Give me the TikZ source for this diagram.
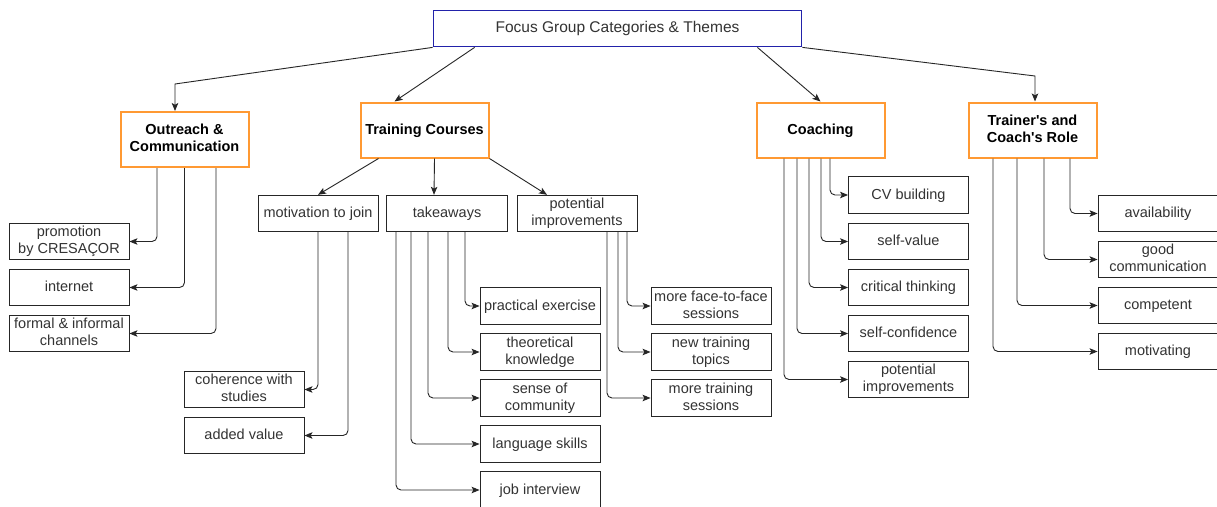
\documentclass[tikz,border=0pt]{standalone}
\usepackage{fontspec}
\setmainfont{Liberation Sans}[Ligatures=TeXOff]
\usepackage{tikz}
\usetikzlibrary{arrows.meta}
\definecolor{rootblue}{HTML}{2222AA}
\definecolor{catorange}{HTML}{FF9933}
\definecolor{leafgray}{HTML}{333333}
\newcommand{\nstrut}{\rule[-3.5pt]{0pt}{15.5pt}}
\tikzstyle{arrow} = [line width=0.9pt,draw=black!85,-{Stealth[length=8pt,width=6.5pt,inset=1.8pt]}]
\tikzstyle{elbow} = [arrow,rounded corners=5pt]
\tikzstyle{rootbox} = [draw=rootblue,line width=1.8pt,rectangle,align=center,minimum width=368pt,
    minimum height=36pt,inner sep=0pt,text=leafgray,font=\fontsize{15.5}{17}\selectfont,
    execute at begin node=\nstrut]
\tikzstyle{catbox} = [draw=catorange,line width=2pt,fill=white,rectangle,align=center,minimum width=128pt,
    minimum height=55pt,inner sep=0pt,font=\fontsize{14.5}{17}\selectfont\bfseries,
    execute at begin node=\nstrut,execute at end node=\nstrut]
\tikzstyle{leafbox} = [draw=black!85,line width=0.9pt,rectangle,align=center,minimum width=120pt,
    minimum height=36.5pt,inner sep=0pt,text=leafgray,font=\fontsize{14.5}{17}\selectfont,
    execute at begin node=\nstrut,execute at end node=\nstrut]

\begin{document}
\begin{tikzpicture}[x=1pt,y=-1pt]
    \useasboundingbox[fill=white] (0,0) rectangle (1217,506);
    % top and categories
    \node[rootbox] (root) at (617.5,28.5) {Focus Group Categories \& Themes};
    \node[catbox] (out) at (184.5,139.5) {Outreach \&\\Communication};
    \node[catbox] (tc) at (424.5,130) {Training Courses};
    \node[catbox] (coach) at (820.5,130) {Coaching};
    \node[catbox] (trn) at (1032.5,130) {Trainer's and\\Coach's Role};
    \coordinate (b1) at (175,84);
    \coordinate (b2) at (1035,76);
    \draw[arrow] (root.south west) -- (b1) -- (b1 |- out.north);
    \draw[arrow] ([xshift=42pt]root.south west) -- ([xshift=-30pt]tc.north);
    \draw[arrow] ([xshift=-45pt]root.south east) -- (coach.north);
    \draw[arrow] (root.south east) -- (b2) -- (b2 |- trn.north);

    % outreach
    \node[leafbox] (promo) at (69,241.5) {promotion\\by CRESAÇOR};
    \node[leafbox] (inet) at (69,287.5) {internet};
    \node[leafbox] (formal) at (69,333.5) {formal \& informal\\channels};
    \draw[elbow] ([xshift=-27.5pt]out.south) |- (promo.east);
    \draw[elbow] (out.south) |- (inet.east);
    \draw[elbow] ([xshift=31.5pt]out.south) |- (formal.east);

    % training courses
    \node[leafbox] (mot) at (318,213.5) {motivation to join};
    \node[leafbox,minimum width=121pt] (tk) at (447,213.5) {takeaways};
    \node[leafbox] (pot) at (577,213.5) {potential\\improvements};
    \draw[arrow] ([xshift=19pt]tc.south west) -- (mot.north);
    \draw[arrow] ([xshift=10pt]tc.south) -- ([xshift=-13pt]tk.north);
    \draw[arrow] (tc.south east) -- ([xshift=-30pt]pot.north);

    \node[leafbox] (coh) at (244,389.5) {coherence with\\studies};
    \node[leafbox] (add) at (244,435.5) {added value};
    \draw[elbow] (mot.south) |- (coh.east);
    \draw[elbow] ([xshift=30pt]mot.south) |- (add.east);

    \node[leafbox] (prac) at (540,306) {practical exercise};
    \node[leafbox] (theo) at (540,352) {theoretical\\knowledge};
    \node[leafbox] (sense) at (540,398) {sense of\\community};
    \node[leafbox] (lang) at (540,444) {language skills};
    \node[leafbox] (job) at (540,490) {job interview};
    \draw[elbow] ([xshift=18pt]tk.south) |- (prac.west);
    \draw[elbow] ([xshift=1pt]tk.south) |- (theo.west);
    \draw[elbow] ([xshift=-19pt]tk.south) |- (sense.west);
    \draw[elbow] ([xshift=-36pt]tk.south) |- (lang.west);
    \draw[elbow] ([xshift=-51pt]tk.south) |- (job.west);

    \node[leafbox] (face) at (711,306) {more face-to-face\\sessions};
    \node[leafbox] (newt) at (711,352) {new training\\topics};
    \node[leafbox] (moret) at (711,398) {more training\\sessions};
    \draw[elbow] ([xshift=50pt]pot.south) |- (face.west);
    \draw[elbow] ([xshift=41pt]pot.south) |- (newt.west);
    \draw[elbow] ([xshift=30pt]pot.south) |- (moret.west);

    % coaching
    \node[leafbox] (cv) at (908.5,195) {CV building};
    \node[leafbox] (selfv) at (908.5,241.5) {self-value};
    \node[leafbox] (crit) at (908.5,287.5) {critical thinking};
    \node[leafbox] (selfc) at (908.5,333.5) {self-confidence};
    \node[leafbox] (pimp) at (908.5,379.5) {potential\\improvements};
    \draw[elbow] ([xshift=9.5pt]coach.south) |- (cv.west);
    \draw[elbow] ([xshift=0.5pt]coach.south) |- (selfv.west);
    \draw[elbow] ([xshift=-11.5pt]coach.south) |- (crit.west);
    \draw[elbow] ([xshift=-23.5pt]coach.south) |- (selfc.west);
    \draw[elbow] ([xshift=-36.5pt]coach.south) |- (pimp.west);

    % trainer's and coach's role
    \node[leafbox] (avail) at (1158,213.5) {availability};
    \node[leafbox] (good) at (1158,259.5) {good\\communication};
    \node[leafbox] (comp) at (1158,305.5) {competent};
    \node[leafbox] (motv) at (1158,351.5) {motivating};
    \draw[elbow] ([xshift=37.5pt]trn.south) |- (avail.west);
    \draw[elbow] ([xshift=11.5pt]trn.south) |- (good.west);
    \draw[elbow] ([xshift=-15.5pt]trn.south) |- (comp.west);
    \draw[elbow] ([xshift=-39.5pt]trn.south) |- (motv.west);
\end{tikzpicture}
\end{document}
